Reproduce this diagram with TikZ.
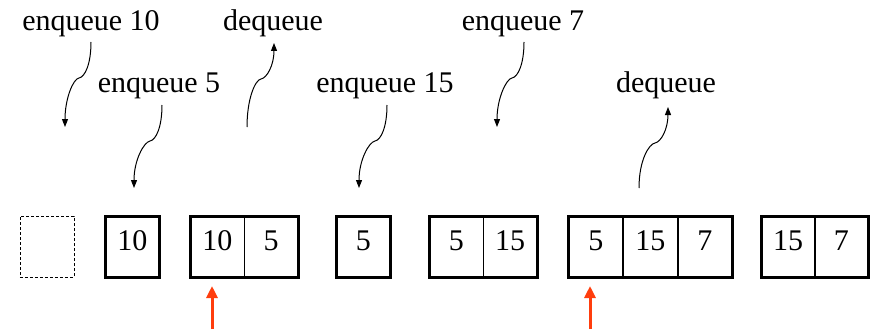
\documentclass[tikz,border=0pt]{standalone}
\usepackage{fontspec}
\setmainfont{Liberation Serif}
\usetikzlibrary{arrows.meta}
\definecolor{qred}{RGB}{255,61,13}
\begin{document}
\begin{tikzpicture}[x=1pt,y=-1pt,
  lab/.style={font=\fontsize{30}{36}\selectfont, anchor=base, inner sep=0pt},
  cell/.style={draw=black, line width=0.8pt, minimum width=53pt, minimum height=60pt,
    inner sep=0pt, text height=20pt, text depth=13pt,
    font=\fontsize{30}{36}\selectfont, anchor=north west},
  emptycell/.style={draw=black, line width=0.8pt, dash pattern=on 3pt off 2pt,
    minimum width=54pt, minimum height=61pt, inner sep=0pt, anchor=north west},
  frame/.style={draw=black, line width=3pt},
  curvy/.style={line width=1pt},
  downtip/.style={-{Triangle[length=8pt,width=6pt]}},
  uptip/.style={{Triangle[length=8pt,width=6pt]}-},
  pointer/.style={draw=qred, line width=3pt, -{Triangle[length=12pt,width=11pt]}}
]
\useasboundingbox (0,0) rectangle (874,329);

% labels
\node[lab] (l1) at (91,31) {enqueue 10};
\node[lab] (l2) at (159,92) {enqueue 5};
\node[lab] (l3) at (273,31) {dequeue};
\node[lab] (l4) at (385,92) {enqueue 15};
\node[lab] (l5) at (523,31) {enqueue 7};
\node[lab] (l6) at (666,92) {dequeue};

% curvy arrow points
\coordinate (t1) at (91,42);  \coordinate (k1) at (79,78);  \coordinate (e1) at (65,127);
\coordinate (t2) at (162,105); \coordinate (k2) at (150,141); \coordinate (e2) at (134,188);
\coordinate (t3) at (274,43); \coordinate (k3) at (261,79); \coordinate (e3) at (247,127);
\coordinate (t4) at (387,105); \coordinate (k4) at (375,141); \coordinate (e4) at (359,188);
\coordinate (t5) at (524,42); \coordinate (k5) at (512,78); \coordinate (e5) at (497,127);
\coordinate (t6) at (668,107); \coordinate (k6) at (655,143); \coordinate (e6) at (639,188);

\foreach \i/\tip in {1/downtip,2/downtip,3/uptip,4/downtip,5/downtip,6/uptip}{
  \draw[curvy,\tip] (t\i) .. controls +(0,22) and +(6,-1) .. (k\i)
                         .. controls +(-6,1) and +(0,-28) .. (e\i);
}

% box 0 (empty)
\node[emptycell] (b0) at (19.5,216) {};

% box 1
\node[cell] (b1a) at (105.5,216.5) {10};
\draw[frame] (b1a.north west) rectangle (b1a.south east);

% box 2
\node[cell] (b2a) at (190.5,216.5) {10};
\node[cell] (b2b) at (b2a.north east) {5};
\draw[frame] (b2a.north west) rectangle (b2b.south east);

% box 3
\node[cell] (b3a) at (336.5,216.5) {5};
\draw[frame] (b3a.north west) rectangle (b3a.south east);

% box 4
\node[cell] (b4a) at (429.5,216.5) {5};
\node[cell] (b4b) at (b4a.north east) {15};
\draw[frame] (b4a.north west) rectangle (b4b.south east);

% box 5
\node[cell, minimum width=53.7pt] (b5a) at (568.5,216.5) {5};
\node[cell, minimum width=53.7pt] (b5b) at (b5a.north east) {15};
\node[cell, minimum width=53.7pt] (b5c) at (b5b.north east) {7};
\draw[frame] (b5a.north west) rectangle (b5c.south east);

% box 6
\node[cell, minimum width=52.5pt] (b6a) at (761.5,216.5) {15};
\node[cell, minimum width=52.5pt] (b6b) at (b6a.north east) {7};
\draw[frame] (b6a.north west) rectangle (b6b.south east);

% red pointers
\coordinate (p1s) at (212,329); \coordinate (p1e) at (212,286);
\coordinate (p2s) at (590,329); \coordinate (p2e) at (590,286);
\draw[pointer] (p1s) -- (p1e);
\draw[pointer] (p2s) -- (p2e);
\end{tikzpicture}
\end{document}
